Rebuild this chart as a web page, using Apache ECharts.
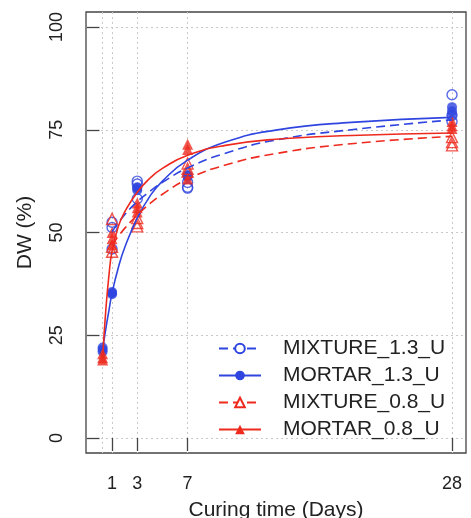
<!DOCTYPE html>
<html>
<head>
<meta charset="utf-8">
<script src="https://cdn.jsdelivr.net/npm/echarts@6/dist/echarts.min.js"></script>
<style>html,body{margin:0;padding:0;background:#fff;}#c{width:471px;height:518px;}</style>
</head>
<body>
<div id="c"></div>
<script>
// ---- data ----
const seriesNames = ['MIXTURE_1.3_U', 'MORTAR_1.3_U', 'MIXTURE_0.8_U', 'MORTAR_0.8_U'];
const daysMortar = [0.25, 1, 3, 7, 28];
const daysMixture = [1, 3, 7, 28];
const xTicks = [1, 3, 7, 28];
const xGrid = [0.25, 1, 3, 7, 28];
const yTicks = [0, 25, 50, 75, 100];

// replicate measurements per day
const mixture13 = [[52.5, 51.2, 46.0], [62.5, 61.8, 58.2], [62.2, 61.0, 60.8], [83.5, 78.5, 77.0]];
const mortar13  = [[21.5, 21.0, 22.0], [35.3, 35.0, 35.5], [61.0, 60.3, 60.8], [64.0, 63.5, 63.8], [80.5, 79.5, 78.5]];
const mixture08 = [[53.3, 46.5, 45.3], [53.5, 52.3, 51.5], [66.8, 65.5, 64.8], [73.2, 72.0, 71.2]];
const mortar08  = [[20.5, 19.5, 19.0], [50.0, 48.5, 47.0], [57.2, 56.0, 55.0], [71.5, 70.2, 63.0], [77.0, 76.0, 75.3]];

// fitted curves
const fitMix13X = [1, 2, 3, 4, 5, 7, 10, 14, 20, 28];
const fitMix13Y = [50.2, 54.3, 57.5, 60.0, 62.2, 65.7, 69.3, 72.5, 75.0, 77.4];
const fitMor13X = [0.25, 0.5, 0.75, 1, 1.5, 2, 3, 4, 5, 7, 10, 14, 20, 28];
const fitMor13Y = [21.5, 26.5, 31.0, 35.3, 41.5, 46.3, 53.5, 58.8, 62.5, 67.6, 72.0, 74.9, 76.8, 78.0];
const fitMix08X = [1, 2, 3, 4, 5, 7, 10, 14, 20, 28];
const fitMix08Y = [47.0, 51.0, 54.2, 57.0, 59.3, 63.0, 66.4, 69.2, 71.6, 73.4];
const fitMor08X = [0.25, 0.5, 0.75, 1, 1.5, 2, 3, 4, 5, 7, 10, 14, 20, 28];
const fitMor08Y = [19.5, 31.0, 39.5, 45.5, 51.5, 55.0, 59.8, 63.2, 65.6, 68.8, 71.2, 72.7, 73.6, 74.2];

// ---- build ----
const BLUE = '#2f45e0', RED = '#ee2a1e';
function pts(days, reps) {
  const out = [];
  days.forEach((d, i) => reps[i].forEach(v => out.push([d, v])));
  return out;
}
function zip(xs, ys) { return xs.map((x, i) => [x, ys[i]]); }

const lineBase = { type: 'line', smooth: 0.5, showSymbol: false, symbolSize: 10, silent: true, z: 3 };
const series = [
  Object.assign({}, lineBase, { name: seriesNames[0], symbol: 'emptyCircle', data: zip(fitMix13X, fitMix13Y),
    itemStyle: { color: BLUE }, lineStyle: { color: BLUE, width: 1.6, type: [9, 5] } }),
  Object.assign({}, lineBase, { name: seriesNames[1], symbol: 'circle', data: zip(fitMor13X, fitMor13Y),
    itemStyle: { color: BLUE }, lineStyle: { color: BLUE, width: 1.6 } }),
  Object.assign({}, lineBase, { name: seriesNames[2], symbol: 'emptyTriangle', data: zip(fitMix08X, fitMix08Y),
    itemStyle: { color: RED }, lineStyle: { color: RED, width: 1.6, type: [9, 5] } }),
  Object.assign({}, lineBase, { name: seriesNames[3], symbol: 'triangle', data: zip(fitMor08X, fitMor08Y),
    itemStyle: { color: RED }, lineStyle: { color: RED, width: 1.6 } }),
  { type: 'scatter', name: 'p_mix13', symbol: 'circle', symbolSize: 10, data: pts(daysMixture, mixture13),
    itemStyle: { color: 'rgba(0,0,0,0)', borderColor: BLUE, borderWidth: 1.4 }, z: 2 },
  { type: 'scatter', name: 'p_mor13', symbol: 'circle', symbolSize: 10, data: pts(daysMortar, mortar13),
    itemStyle: { color: BLUE }, z: 2 },
  { type: 'scatter', name: 'p_mix08', symbol: 'triangle', symbolSize: 11, data: pts(daysMixture, mixture08),
    itemStyle: { color: 'rgba(0,0,0,0)', borderColor: RED, borderWidth: 1.4 }, z: 2 },
  { type: 'scatter', name: 'p_mor08', symbol: 'triangle', symbolSize: 11, data: pts(daysMortar, mortar08),
    itemStyle: { color: RED }, z: 2 }
];

const gridLine = { show: true, lineStyle: { color: '#c8c8c8', width: 1, type: [2, 3] } };
const FONT = '"Liberation Sans", Arial, Helvetica, sans-serif';

const option = {
  animation: false,
  textStyle: { fontFamily: FONT },
  grid: { left: 86, top: 12, right: 5, bottom: 65, show: true, borderColor: '#444', borderWidth: 1.3,
          containLabel: false, outerBoundsMode: 'none' },
  legend: {
    orient: 'vertical', left: 218, top: 338, padding: 0,
    itemWidth: 42, itemHeight: 12, itemGap: 6,
    textStyle: { fontSize: 21, color: '#222', fontFamily: FONT, padding: [0, 0, 0, 17] },
    data: seriesNames
  },
  xAxis: [
    {
      type: 'value', min: -1.07, max: 29.11,
      name: 'Curing time (Days)', nameLocation: 'middle', nameGap: 47,
      nameTextStyle: { fontSize: 21, color: '#222' },
      axisLine: { show: false },
      axisTick: { show: true, length: 13, customValues: xTicks, lineStyle: { color: '#444', width: 1.3 } },
      axisLabel: { customValues: xTicks, fontSize: 18, color: '#222', margin: 22 },
      splitLine: { show: false }
    },
    {
      type: 'value', min: -1.07, max: 29.11, position: 'bottom',
      axisLine: { show: false },
      axisTick: { show: false, customValues: xGrid },
      axisLabel: { show: false },
      splitLine: gridLine
    }
  ],
  yAxis: {
    type: 'value', min: -3.65, max: 103.65,
    name: 'DW (%)', nameLocation: 'middle', nameGap: 50, nameRotate: 90,
    nameTextStyle: { fontSize: 21, color: '#222' },
    axisLine: { show: false },
    axisTick: { show: true, length: 13, customValues: yTicks, lineStyle: { color: '#444', width: 1.3 } },
    axisLabel: { customValues: yTicks, fontSize: 18, color: '#222', margin: 20, rotate: 90 },
    splitLine: gridLine
  },
  series: series
};
echarts.init(document.getElementById('c'), null, { renderer: 'canvas' }).setOption(option);
</script>
</body>
</html>
